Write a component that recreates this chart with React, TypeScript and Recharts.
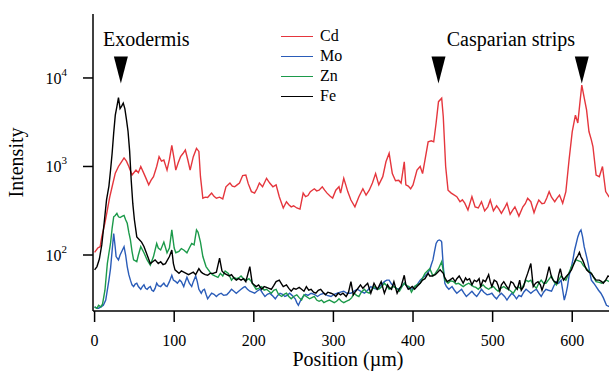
import React from 'react';
import { LineChart, Line, XAxis, YAxis, ReferenceDot, Legend } from 'recharts';

const FONT = "'Liberation Serif', 'Times New Roman', serif";

// [position µm, intensity]
const cdSeries: [number, number][] = [
  [0,107],[4,120],[7,124],[9,160],[13,230],[16,322],[19,450],[22,590],[26,840],[30,1000],[33,1100],[37,1250],[40,1150],[43,1000],[47,800],[52,910],[55,850],[58,1000],[62,830],[65,720],[68,620],[71,700],[74,767],[78,1000],[81,1290],[84,1150],[87,1183],[91,910],[94,1200],[97,1735],[100,1200],[102,910],[105,1100],[108,1290],[111,1400],[114,1535],[117,1200],[120,910],[124,1290],[128,1600],[131,1480],[133,767],[136,438],[139,450],[142,446],[145,480],[147,500],[150,460],[153,438],[157,450],[161,430],[165,590],[170,650],[173,600],[176,590],[179,620],[182,650],[186,790],[190,800],[193,640],[197,520],[201,500],[204,560],[207,650],[211,590],[216,735],[220,650],[224,590],[228,620],[232,456],[237,340],[241,400],[244,370],[247,350],[250,360],[254,340],[258,330],[262,500],[265,456],[268,470],[271,520],[276,560],[279,530],[282,540],[286,590],[289,540],[292,500],[296,460],[299,440],[303,540],[307,590],[309,500],[313,735],[316,600],[318,520],[322,418],[327,350],[332,456],[337,560],[341,476],[345,540],[349,650],[353,830],[357,620],[362,767],[366,1130],[370,1410],[374,830],[378,690],[382,700],[385,650],[389,1130],[391,620],[394,600],[397,560],[400,620],[405,910],[409,1000],[412,830],[415,1183],[419,1900],[423,1950],[426,1900],[429,3100],[432,5400],[436,5900],[438,3650],[441,1000],[444,540],[448,500],[451,480],[455,456],[459,400],[462,420],[465,385],[469,322],[474,456],[478,350],[482,340],[486,400],[490,315],[494,350],[497,418],[501,315],[505,360],[508,330],[511,295],[515,340],[518,385],[522,288],[525,320],[528,350],[533,275],[538,350],[541,380],[544,438],[548,400],[552,300],[555,360],[558,418],[562,380],[565,385],[568,440],[571,520],[574,450],[578,400],[581,440],[584,476],[588,385],[592,520],[596,1183],[600,2480],[604,3800],[607,3100],[610,5640],[612,8300],[615,6000],[618,4350],[621,2480],[624,2000],[626,1680],[630,800],[634,767],[638,1000],[642,520],[646,456],[650,420],
];

const moSeries: [number, number][] = [
  [0,26],[3,25],[5,25],[8,26],[11,27],[14,31],[16,40],[18,52],[20,70],[21,88],[23,140],[24,175],[26,120],[27,96],[30,88],[32,100],[35,114],[37,124],[39,100],[41,74],[43,60],[45,52],[47,46],[49,44],[51,47],[53,48],[55,44],[58,41],[60,44],[62,46],[64,42],[66,41],[68,43],[70,44],[72,40],[74,39],[76,42],[78,48],[80,45],[83,44],[85,46],[87,48],[89,45],[91,44],[94,50],[97,59],[99,52],[102,50],[104,48],[107,52],[109,50],[112,44],[114,50],[116,56],[119,48],[122,44],[124,50],[127,58],[129,50],[131,41],[134,37],[136,40],[138,41],[140,36],[142,32],[145,35],[147,37],[150,36],[153,34],[156,36],[159,37],[162,35],[166,35.5],[169,38],[172,41],[175,39],[178,37],[181,39],[184,41],[187,43],[189,44],[192,41],[195,39],[198,38],[201,37],[204,39],[208,41],[211,37],[214,34],[217,36],[220,37],[223,35],[227,32],[230,35],[233,37],[236,36],[239,34],[242,35],[245,37],[248,35],[252,32],[254,29],[256,27],[259,31],[262,34],[265,36],[268,35],[272,37],[276,36],[280,34],[284,36],[288,37],[292,35],[297,34],[301,36],[305,37],[309,38],[313,39],[317,37],[322,37],[326,39],[330,41],[334,39],[339,37],[343,40],[347,44],[351,42],[355,41],[359,45],[364,50],[367,52],[370,52],[373,47],[376,44],[379,42],[383,41],[386,44],[389,48],[392,45],[395,42],[399,41],[402,44],[405,46],[409,52],[412,55],[415,58],[418,62],[421,68],[423,78],[425,88],[427,110],[429,135],[431,145],[433,148],[435,145],[436,140],[438,74],[440,48],[442,44],[445,41],[449,44],[452,40],[455,37],[458,39],[461,41],[464,37],[467,34],[470,36],[474,39],[477,36],[480,34],[483,37],[486,41],[489,38],[493,35.5],[496,36],[499,37],[502,34],[505,32],[508,35],[511,37],[515,34],[518,31],[521,34],[524,37],[527,35],[530,32],[533,35],[536,34],[539,38],[542,41],[545,39],[548,37],[551,39],[555,41],[558,37],[561,34],[564,38],[567,41],[570,40],[574,39],[577,45],[580,50],[583,48],[586,52],[588,40],[590,31],[592,36],[594,44],[596,58],[599,74],[601,90],[603,114],[605,135],[607,160],[609,180],[611,192],[613,160],[615,124],[618,96],[620,80],[622,64],[624,52],[627,48],[630,44],[633,40],[636,37],[639,33],[643,27],[647,26],[650,26],
];

const znSeries: [number, number][] = [
  [0,26],[3,25],[5,27],[8,26],[10,28],[13,40],[16,80],[18,105],[20,135],[22,200],[24,270],[26,280],[28,295],[30,270],[32,265],[35,275],[37,280],[39,250],[41,228],[43,180],[45,148],[47,110],[49,88],[53,84],[55,100],[58,124],[62,106],[66,88],[70,77],[74,96],[78,135],[80,120],[83,114],[87,140],[91,106],[94,120],[97,192],[100,120],[102,106],[106,110],[109,118],[112,114],[116,106],[119,120],[122,135],[125,130],[128,192],[130,180],[133,140],[136,96],[140,74],[145,64],[148,60],[151,58],[155,56],[158,62],[161,58],[164,66],[168,62],[172,52],[175,56],[178,54],[181,55],[184,58],[187,54],[191,52],[194,54],[197,50],[200,45],[203,41],[206,42],[210,44],[213,40],[216,41],[219,39],[222,37],[225,40],[228,41],[231,36],[235,34],[238,36],[241,37],[244,34],[247,32],[250,34],[254,35.5],[257,33],[260,31],[263,35.5],[266,34],[270,32],[273,33],[276,34],[279,31],[282,30],[285,31],[288,29],[291,30],[295,31],[298,30],[301,29],[304,30],[307,32],[310,30],[313,29],[316,30],[320,31],[323,33],[326,37],[329,35],[332,34],[335,38],[339,41],[342,38],[345,37],[348,40],[351,44],[354,42],[357,41],[361,44],[364,48],[367,45],[370,41],[373,43],[376,44],[379,42],[383,39],[386,44],[389,48],[392,45],[395,44],[398,38],[402,44],[405,46],[409,48],[412,55],[415,62],[418,66],[421,70],[423,64],[425,58],[428,62],[432,70],[436,84],[438,66],[440,52],[444,48],[447,51],[451,50],[454,47],[457,48],[460,46],[463,44],[466,46],[470,48],[473,46],[476,44],[479,43],[482,41],[485,44],[488,46],[491,43],[495,41],[498,43],[501,44],[504,41],[507,39],[510,42],[514,44],[517,42],[520,41],[523,39],[526,37],[529,41],[532,44],[536,41],[539,46],[542,52],[545,50],[548,52],[551,46],[555,42],[558,48],[561,52],[564,48],[567,48],[570,52],[574,58],[577,50],[580,46],[583,52],[586,58],[589,54],[592,52],[595,60],[599,74],[602,80],[605,88],[608,86],[611,84],[614,76],[618,70],[621,66],[624,62],[627,56],[630,50],[634,49],[637,48],[640,50],[643,52],[650,48],
];

const feSeries: [number, number][] = [
  [0,68],[3,74],[6,90],[9,130],[12,230],[15,420],[18,600],[20,900],[22,1400],[24,2400],[26,3800],[28,4750],[30,6000],[32,4500],[34,4800],[36,5200],[38,4500],[40,3400],[42,2500],[44,1500],[46,700],[48,380],[50,250],[53,160],[56,150],[59,140],[62,125],[66,100],[70,80],[73,84],[76,88],[80,80],[83,84],[86,78],[89,80],[94,96],[97,114],[99,80],[101,68],[106,62],[109,66],[112,64],[115,62],[118,60],[121,62],[124,64],[127,60],[131,70],[134,64],[136,62],[139,60],[142,59],[145,62],[149,62],[153,64],[157,92],[160,66],[163,62],[166,60],[169,58],[172,60],[175,55],[178,52],[181,54],[184,52],[187,54],[190,50],[195,74],[198,48],[203,44],[206,46],[210,41],[213,44],[216,43],[219,42],[222,41],[225,45],[228,50],[232,52],[235,47],[237,44],[241,46],[244,42],[247,39],[250,42],[253,41],[257,43],[260,41],[263,39],[266,44],[269,40],[272,41],[275,38],[278,37],[281,40],[284,41],[287,38],[290,35.5],[293,38],[297,37],[300,36],[303,34],[306,37],[309,35.5],[312,37],[316,34],[319,38],[322,50],[325,35.5],[328,39],[330,41],[334,46],[337,42],[339,44],[343,48],[347,37],[351,48],[355,41],[357,44],[360,50],[364,37],[368,46],[370,43],[373,41],[376,50],[380,37],[383,42],[385,44],[389,59],[391,46],[394,41],[396,42],[399,44],[402,41],[405,44],[409,48],[412,52],[415,54],[419,62],[421,58],[424,58],[428,60],[431,64],[434,68],[438,62],[440,55],[443,50],[446,52],[450,55],[453,50],[455,54],[458,58],[461,52],[463,48],[466,55],[468,52],[471,54],[474,46],[477,52],[480,50],[483,54],[485,44],[488,52],[491,50],[495,60],[497,50],[499,44],[502,52],[505,50],[507,45],[509,39],[511,46],[514,50],[517,45],[520,41],[523,50],[526,48],[528,44],[531,41],[534,52],[536,40],[539,44],[541,52],[544,62],[548,80],[551,44],[554,48],[557,50],[560,46],[562,40],[565,48],[567,52],[569,62],[571,74],[574,56],[576,52],[578,50],[581,48],[583,60],[585,70],[587,58],[589,52],[591,55],[593,58],[596,62],[599,68],[601,75],[604,88],[607,98],[609,107],[611,95],[613,88],[616,75],[618,68],[621,64],[624,62],[627,56],[630,52],[634,52],[637,50],[639,48],[642,52],[645,58],[650,55],
];

const xTicks = [0, 100, 200, 300, 400, 500, 600];
const yTicks = [100, 1000, 10000];
const arrowPositions = [33, 432, 612];
const arrowLevel = 12480;
const annotations: { text: string; x: number; y: number }[] = [
  { text: 'Exodermis', x: 65, y: 23000 },
  { text: 'Casparian strips', x: 523, y: 23000 },
];

const toPoints = (arr: [number, number][]) => arr.map(([x, v]) => ({ x, v }));

const SERIES = [
  { name: 'Cd', color: '#e5363d', data: toPoints(cdSeries) },
  { name: 'Mo', color: '#2a5cb8', data: toPoints(moSeries) },
  { name: 'Zn', color: '#1c9a4a', data: toPoints(znSeries) },
  { name: 'Fe', color: '#000000', data: toPoints(feSeries) },
];

const YTick = (props: any) => {
  const { x, y, payload } = props;
  const exp = Math.round(Math.log10(payload.value));
  return (
    <text x={x} y={y + 6} textAnchor="end" fontFamily={FONT} fontSize={16} fill="#000">
      10
      <tspan dy={-8} fontSize={11}>{exp}</tspan>
    </text>
  );
};

const XTick = (props: any) => {
  const { x, y, payload } = props;
  return (
    <text x={x} y={y + 5} textAnchor="middle" dominantBaseline="central" fontFamily={FONT} fontSize={16} fill="#000">
      {payload.value}
    </text>
  );
};

const Triangle = (props: any) => {
  const { cx, cy } = props;
  const pts = `${cx - 7},${cy - 13} ${cx + 7},${cy - 13} ${cx},${cy + 14}`;
  return <polygon points={pts} fill="#000" />;
};

const makeTextShape = (text: string) => (props: any) => (
  <text x={props.cx} y={props.cy} textAnchor="middle" fontFamily={FONT} fontSize={20} fill="#000">
    {text}
  </text>
);

const LegendContent = () => (
  <div style={{ fontFamily: FONT, fontSize: 16, color: '#000' }}>
    {SERIES.map((s) => (
      <div key={s.name} style={{ display: 'flex', alignItems: 'center', height: 20 }}>
        <div style={{ width: 32, height: 0, borderTop: `1.5px solid ${s.color}` }} />
        <span style={{ marginLeft: 7, lineHeight: '20px' }}>{s.name}</span>
      </div>
    ))}
  </div>
);

export default function App() {
  return (
    <div style={{ position: 'absolute', left: 0, top: 0, width: 609, height: 372, overflow: 'hidden', background: '#fff', fontFamily: FONT }}>
      <LineChart width={625} height={372} margin={{ top: 14, right: 5, bottom: 0, left: 0 }} style={{ fontFamily: FONT }}>
        <XAxis
          type="number"
          dataKey="x"
          domain={[-2, 660]}
          allowDataOverflow
          ticks={xTicks}
          height={61}
          tickSize={11}
          tickMargin={13}
          stroke="#000"
          axisLine={{ stroke: '#000', strokeWidth: 1.5 }}
          tickLine={{ stroke: '#000', strokeWidth: 1.5 }}
          tick={<XTick />}
          label={{
            content: (p: any) => (
              <text x={(p.viewBox?.x ?? 93) + 255} y={366} textAnchor="middle" fontFamily={FONT} fontSize={20} fill="#000">
                Position (µm)
              </text>
            ),
          }}
        />
        <XAxis
          xAxisId="top"
          orientation="top"
          type="number"
          dataKey="x"
          domain={[-2, 660]}
          height={0}
          tick={false}
          tickLine={false}
          axisLine={{ stroke: '#000', strokeWidth: 1.5 }}
        />
        <YAxis
          type="number"
          scale="log"
          domain={[23.3, 52800]}
          allowDataOverflow
          ticks={yTicks}
          width={93}
          tickSize={10}
          tickMargin={16}
          axisLine={{ stroke: '#000', strokeWidth: 1.5 }}
          tickLine={{ stroke: '#000', strokeWidth: 1.5 }}
          tick={<YTick />}
          label={{
            content: (p: any) => {
              const vb = p.viewBox || { x: 0, y: 14, height: 297 };
              const cy = vb.y + vb.height / 2;
              return (
                <text x={23} y={cy} transform={`rotate(-90, 23, ${cy})`} textAnchor="middle" fontFamily={FONT} fontSize={20} fill="#000">
                  Intensity
                </text>
              );
            },
          }}
        />
        {SERIES.map((s) => (
          <Line
            key={s.name}
            name={s.name}
            data={s.data}
            dataKey="v"
            type="linear"
            stroke={s.color}
            strokeWidth={1.4}
            dot={false}
            activeDot={false}
            isAnimationActive={false}
          />
        ))}
        {arrowPositions.map((ax) => (
          <ReferenceDot key={`a${ax}`} x={ax} y={arrowLevel} r={0} shape={<Triangle />} />
        ))}
        {annotations.map((a) => (
          <ReferenceDot key={a.text} x={a.x} y={a.y} r={0} shape={makeTextShape(a.text)} />
        ))}
        <Legend
          layout="vertical"
          align="center"
          verticalAlign="middle"
          content={<LegendContent />}
          wrapperStyle={{ position: 'absolute', left: 281, top: 26, width: 'auto', height: 'auto' }}
        />
      </LineChart>
    </div>
  );
}
